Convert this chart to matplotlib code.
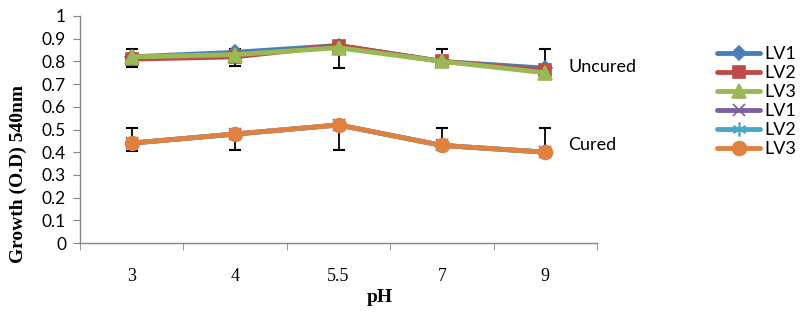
import numpy as np
import matplotlib.pyplot as plt

ph_labels = ['3', '4', '5.5', '7', '9']

uncured_lv1 = [0.82, 0.84, 0.87, 0.80, 0.77]
uncured_lv2 = [0.81, 0.82, 0.87, 0.80, 0.76]
uncured_lv3 = [0.82, 0.83, 0.86, 0.80, 0.75]
# only one side of some bars shows in the original
uncured_err_lo = [0.045, 0.05, 0.09, 0.0, 0.0]
uncured_err_hi = [0.035, 0.025, 0.0, 0.055, 0.105]

cured_lv1 = [0.44, 0.48, 0.52, 0.43, 0.40]
cured_lv2 = [0.44, 0.48, 0.52, 0.43, 0.40]
cured_lv3 = [0.44, 0.48, 0.52, 0.43, 0.40]
cured_err_lo = [0.035, 0.07, 0.11, 0.0, 0.0]
cured_err_hi = [0.065, 0.0, 0.0, 0.075, 0.105]

SANS = ['Lato', 'DejaVu Sans']
SERIF = 'Liberation Serif'
AXIS = '#868686'

fig = plt.figure(figsize=(8.07, 3.22), dpi=100)
ax = fig.add_axes([80 / 807, 1 - 243 / 322, (597 - 80) / 807, (243 - 16) / 322])
x = np.arange(len(ph_labels))

# error bars drawn beneath the lines
ax.errorbar(x, uncured_lv3, yerr=[uncured_err_lo, uncured_err_hi], fmt='none',
            ecolor='black', elinewidth=1.3, capsize=4, capthick=1.5, zorder=1)
ax.errorbar(x, cured_lv3, yerr=[cured_err_lo, cured_err_hi], fmt='none',
            ecolor='black', elinewidth=1.3, capsize=4, capthick=1.5, zorder=1)

lw = 3.5
series = [
    (uncured_lv1, '#4a7ebb', 'D', 7, 'LV1'),
    (uncured_lv2, '#be4b48', 's', 9, 'LV2'),
    (uncured_lv3, '#98b954', '^', 10, 'LV3'),
    (cured_lv1, '#7d60a0', 'x', 9, 'LV1'),
    (cured_lv2, '#46aac5', (6, 2, 0), 10, 'LV2'),
    (cured_lv3, '#e0823d', 'o', 10, 'LV3'),
]
for i, (vals, col, mk, ms, lab) in enumerate(series):
    ax.plot(x, vals, color=col, lw=lw, marker=mk, markersize=ms,
            markerfacecolor=col, markeredgecolor=col, markeredgewidth=1.2,
            label=lab, zorder=2 + i, solid_capstyle='round')

ax.set_xlim(-0.5, len(ph_labels) - 0.5)
ax.set_ylim(0, 1)
ax.set_yticks(np.arange(0, 1.01, 0.1))
ax.set_yticklabels(['0'] + [f'{v:.1f}' for v in np.arange(0.1, 0.95, 0.1)] + ['1'],
                   fontfamily=SANS, fontsize=12.5)
ax.set_xticks(x)
ax.set_xticklabels(ph_labels, fontfamily=SERIF, fontsize=13)
ax.set_xticks(np.arange(-0.5, len(ph_labels), 1.0), minor=True)
ax.tick_params(axis='x', which='major', length=0, pad=18)
ax.tick_params(axis='x', which='minor', length=5, color=AXIS, direction='out')
ax.tick_params(axis='y', length=5, color=AXIS, direction='out', pad=5)

for s in ['top', 'right']:
    ax.spines[s].set_visible(False)
for s in ['left', 'bottom']:
    ax.spines[s].set_color(AXIS)
    ax.spines[s].set_linewidth(1.0)

fig.text(380 / 807, 1 - 298 / 322, 'pH', fontfamily=SERIF, fontweight='bold',
         fontsize=14, ha='center', va='center')
fig.text(18 / 807, 1 - 174 / 322, 'Growth (O.D) 540nm', fontfamily=SERIF,
         fontweight='bold', fontsize=14, rotation=90, ha='center', va='center')

fig.text(568 / 807, 1 - 67 / 322, 'Uncured', fontfamily=SANS, fontsize=13,
         va='center', ha='left')
fig.text(568 / 807, 1 - 145 / 322, 'Cured', fontfamily=SANS, fontsize=13,
         va='center', ha='left')

leg = fig.legend(loc='upper left', bbox_to_anchor=(717 / 807, 1 - 46 / 322),
                 frameon=False, prop={'family': SANS, 'size': 13},
                 handlelength=2.4, labelspacing=0.17, handletextpad=0.2,
                 borderpad=0, borderaxespad=0)

fig.savefig('out.png', dpi=100)
